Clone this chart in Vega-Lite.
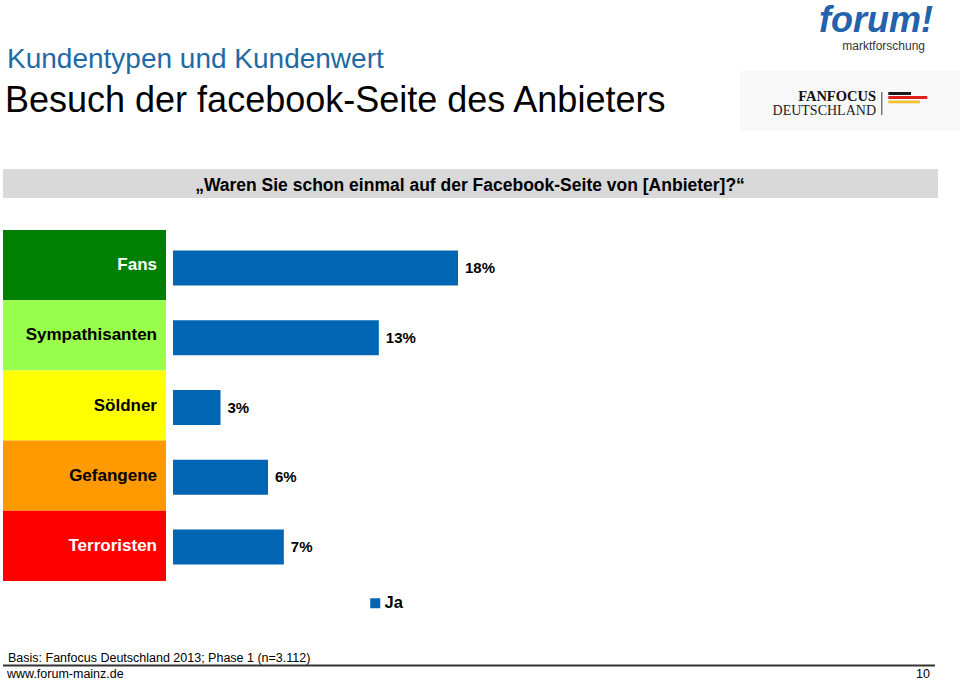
{
  "$schema": "https://vega.github.io/schema/vega-lite/v6.json",
  "width": 960,
  "height": 680,
  "autosize": {"type": "none"},
  "padding": 0,
  "background": "white",
  "config": {"view": {"stroke": null}, "font": "Liberation Sans"},
  "datasets": {
    "segments": [
      {"segment": "Fans", "answer": "Ja", "share": 0.18},
      {"segment": "Sympathisanten", "answer": "Ja", "share": 0.13},
      {"segment": "Söldner", "answer": "Ja", "share": 0.03},
      {"segment": "Gefangene", "answer": "Ja", "share": 0.06},
      {"segment": "Terroristen", "answer": "Ja", "share": 0.07}
    ],
    "header": [
      {"title": "Kundentypen und Kundenwert", "subtitle": "Besuch der facebook-Seite des Anbieters", "question": "„Waren Sie schon einmal auf der Facebook-Seite von [Anbieter]?“", "brand": "forum!", "brandSub": "marktforschung", "partner1": "FANFOCUS", "partner2": "DEUTSCHLAND", "basis": "Basis: Fanfocus Deutschland 2013; Phase 1 (n=3.112)", "url": "www.forum-mainz.de", "page": "10"}
    ]
  },
  "layer": [
    {
      "data": {"name": "header"},
      "layer": [
        {"mark": {"type": "rect", "fill": "#f8f8f8", "x": 740, "x2": 960, "y": 71, "y2": 130}, "encoding": {}},
        {"mark": {"type": "text", "align": "left", "baseline": "alphabetic", "fontSize": 28, "fill": "#1f6aa5", "x": 7, "y": 68}, "encoding": {"text": {"field": "title"}}},
        {"mark": {"type": "text", "align": "left", "baseline": "alphabetic", "fontSize": 36, "fill": "#000000", "x": 5, "y": 112}, "encoding": {"text": {"field": "subtitle"}}},
        {"mark": {"type": "text", "align": "right", "baseline": "alphabetic", "fontSize": 36, "fontWeight": "bold", "fontStyle": "italic", "fill": "#2462ab", "x": 933, "y": 32}, "encoding": {"text": {"field": "brand"}}},
        {"mark": {"type": "text", "align": "right", "baseline": "alphabetic", "fontSize": 12, "fill": "#333333", "x": 925, "y": 49.5}, "encoding": {"text": {"field": "brandSub"}}},
        {"mark": {"type": "text", "align": "right", "baseline": "alphabetic", "font": "Liberation Serif", "fontSize": 14.5, "fontWeight": "bold", "fill": "#111111", "x": 876, "y": 100.7}, "encoding": {"text": {"field": "partner1"}}},
        {"mark": {"type": "text", "align": "right", "baseline": "alphabetic", "font": "Liberation Serif", "fontSize": 14, "fill": "#222222", "x": 876, "y": 115}, "encoding": {"text": {"field": "partner2"}}},
        {"mark": {"type": "rect", "fill": "#777777", "x": 881, "x2": 882.5, "y": 92, "y2": 115}, "encoding": {}},
        {"mark": {"type": "rect", "fill": "#1a1a1a", "x": 888.3, "x2": 911, "y": 92, "y2": 95}, "encoding": {}},
        {"mark": {"type": "rect", "fill": "#e0211b", "x": 888.3, "x2": 927.3, "y": 96, "y2": 99}, "encoding": {}},
        {"mark": {"type": "rect", "fill": "#f2c230", "x": 888.3, "x2": 920, "y": 100.5, "y2": 103.3}, "encoding": {}},
        {"mark": {"type": "rect", "fill": "#d9d9d9", "x": 3, "x2": 938, "y": 169, "y2": 198}, "encoding": {}},
        {"mark": {"type": "text", "align": "center", "baseline": "alphabetic", "fontSize": 17.5, "fontWeight": "bold", "fill": "#000000", "x": 470, "y": 190.5}, "encoding": {"text": {"field": "question"}}},
        {"mark": {"type": "text", "align": "left", "baseline": "alphabetic", "fontSize": 12.5, "fill": "#000000", "x": 8, "y": 661.5}, "encoding": {"text": {"field": "basis"}}},
        {"mark": {"type": "rect", "fill": "#333333", "x": 3, "x2": 935, "y": 664.5, "y2": 666.5}, "encoding": {}},
        {"mark": {"type": "text", "align": "left", "baseline": "alphabetic", "fontSize": 12.5, "fill": "#000000", "x": 7, "y": 677.5}, "encoding": {"text": {"field": "url"}}},
        {"mark": {"type": "text", "align": "right", "baseline": "alphabetic", "fontSize": 12.5, "fill": "#000000", "x": 930, "y": 677.5}, "encoding": {"text": {"field": "page"}}}
      ]
    },
    {
      "data": {"name": "segments"},
      "encoding": {
        "y": {"field": "segment", "type": "nominal", "sort": ["Fans", "Sympathisanten", "Söldner", "Gefangene", "Terroristen"], "scale": {"range": [230, 581], "paddingInner": 0, "paddingOuter": 0}, "axis": null}
      },
      "layer": [
        {
          "mark": {"type": "rect", "x": 3, "x2": 166},
          "encoding": {
            "color": {"field": "segment", "type": "nominal", "scale": {"domain": ["Fans", "Sympathisanten", "Söldner", "Gefangene", "Terroristen"], "range": ["#008000", "#99ff4d", "#ffff00", "#ff9900", "#ff0000"]}, "legend": null}
          }
        },
        {
          "mark": {"type": "text", "align": "right", "baseline": "middle", "fontSize": 17, "fontWeight": "bold", "x": 157},
          "encoding": {
            "text": {"field": "segment"},
            "fill": {"condition": {"test": "datum.segment === 'Fans' || datum.segment === 'Terroristen'", "value": "#ffffff"}, "value": "#000000"}
          }
        }
      ]
    },
    {
      "data": {"name": "segments"},
      "encoding": {
        "y": {"field": "segment", "type": "nominal", "sort": ["Fans", "Sympathisanten", "Söldner", "Gefangene", "Terroristen"], "scale": {"range": [230, 581], "paddingInner": 0.5, "paddingOuter": 0.266, "align": 0.555}, "axis": null},
        "x": {"field": "share", "type": "quantitative", "scale": {"domain": [0, 0.3], "range": [173, 648]}, "axis": null}
      },
      "layer": [
        {
          "mark": {"type": "bar"},
          "encoding": {
            "color": {"field": "answer", "type": "nominal", "scale": {"range": ["#0066b3"]}, "legend": {"title": null, "orient": "none", "legendX": 367, "legendY": 595, "symbolType": "square", "symbolSize": 100, "symbolStrokeWidth": 0, "labelFontSize": 16.5, "labelFontWeight": "bold", "labelColor": "#000000", "labelOffset": 1}}
          }
        },
        {
          "mark": {"type": "text", "align": "left", "baseline": "middle", "dx": 7, "fontSize": 15, "fontWeight": "bold", "fill": "#000000"},
          "encoding": {"text": {"field": "share", "type": "quantitative", "format": ".0%"}}
        }
      ],
      "resolve": {"scale": {"y": "shared"}}
    }
  ],
  "resolve": {"scale": {"y": "independent", "x": "independent", "color": "independent", "fill": "independent"}}
}
